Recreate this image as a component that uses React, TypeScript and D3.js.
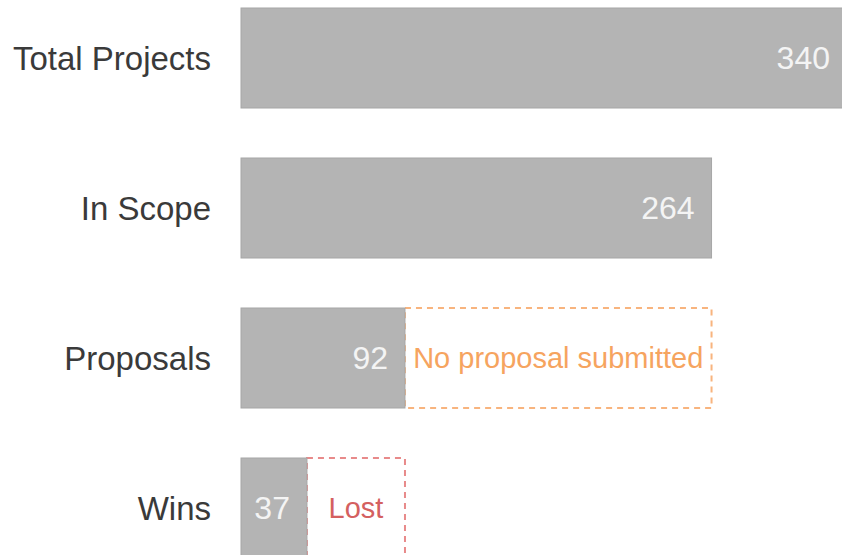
import { useEffect, useRef } from 'react';
import * as d3 from 'd3';

const categories = ['Total Projects', 'In Scope', 'Proposals', 'Wins'];
const values = [340, 264, 92, 37];
// dashed "gap" boxes: extend to previous stage's value
const gapLabels = ['', '', 'No proposal submitted', 'Lost'];
const gapColors = ['', '', '#f6a45f', '#d46060'];
const gapStrokes = ['', '', '#f8b47e', '#e88a8a'];

const WIDTH = 842;
const HEIGHT = 555;

export default function App() {
  const svgRef = useRef<SVGSVGElement>(null);

  useEffect(() => {
    if (!svgRef.current) return;
    const svg = d3.select(svgRef.current);
    svg.selectAll('*').remove();

    const x = d3.scaleLinear().domain([0, 340]).range([241, 847]);
    const y = d3.scaleBand<string>()
      .domain(categories)
      .range([8, 558])
      .paddingInner(1 / 3)
      .paddingOuter(0);

    const font = 'Liberation Sans, Arial, Helvetica, sans-serif';

    categories.forEach((cat, i) => {
      const y0 = y(cat)!;
      const h = y.bandwidth();
      const cy = y0 + h / 2;

      // dashed box for drop-off
      if (i > 0 && gapLabels[i]) {
        const x0 = x(values[i]);
        const x1 = x(values[i - 1]);
        svg.append('rect')
          .attr('x', x0)
          .attr('y', y0)
          .attr('width', x1 - x0)
          .attr('height', h)
          .attr('fill', 'none')
          .attr('stroke', gapStrokes[i])
          .attr('stroke-width', 2)
          .attr('stroke-dasharray', '6,5');

        svg.append('text')
          .attr('x', (x0 + x1) / 2)
          .attr('y', cy)
          .attr('dy', '0.35em')
          .attr('text-anchor', 'middle')
          .attr('font-family', font)
          .attr('font-size', '29px')
          .attr('fill', gapColors[i])
          .text(gapLabels[i]);
      }

      // main bar
      svg.append('rect')
        .attr('x', x(0))
        .attr('y', y0)
        .attr('width', x(values[i]) - x(0))
        .attr('height', h)
        .attr('fill', '#b4b4b4')
        .attr('stroke', '#a6a6a6')
        .attr('stroke-width', 1);

      svg.append('text')
        .attr('x', x(values[i]) - 17)
        .attr('y', cy)
        .attr('dy', '0.35em')
        .attr('text-anchor', 'end')
        .attr('font-family', font)
        .attr('font-size', '32px')
        .attr('fill', '#f4f4f4')
        .text(values[i]);

      // category label
      svg.append('text')
        .attr('x', 211)
        .attr('y', cy)
        .attr('dy', '0.35em')
        .attr('text-anchor', 'end')
        .attr('font-family', font)
        .attr('font-size', '33px')
        .attr('fill', '#3a3a3a')
        .text(cat);
    });
  }, []);

  return (
    <svg
      ref={svgRef}
      width={WIDTH}
      height={HEIGHT}
      style={{ position: 'absolute', left: 0, top: 0, background: '#fff' }}
    />
  );
}
